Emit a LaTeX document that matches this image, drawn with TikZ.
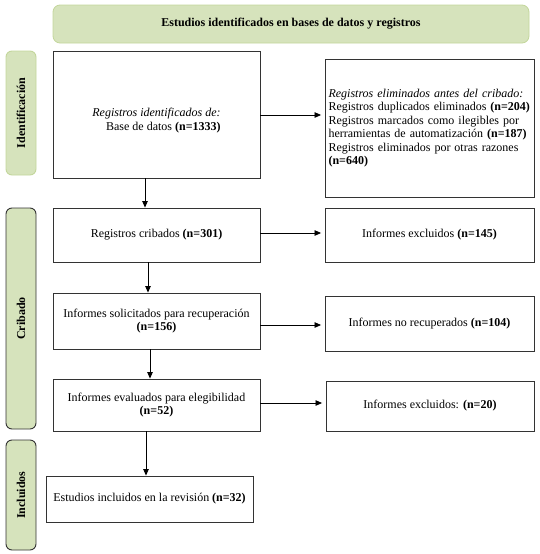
\documentclass[tikz,border=0pt]{standalone}
\usepackage{fontspec}
\setmainfont{Liberation Serif}
\usetikzlibrary{arrows.meta}
\definecolor{pgreen}{HTML}{D6E3BC}
\definecolor{pgreenedge}{HTML}{C3D69B}
\definecolor{boxline}{HTML}{333333}
\begin{document}
\begin{tikzpicture}[x=1pt,y=-1pt,
  font=\fontsize{12}{13.5}\selectfont,
  box/.style={draw=boxline, line width=0.9pt, inner sep=2pt, align=center},
  banner/.style={draw=pgreenedge, fill=pgreen, rounded corners=7pt, line width=0.8pt, font=\fontsize{12}{13.5}\selectfont\bfseries},
  sidelab/.style={fill=pgreen, rounded corners=6pt, rotate=90, line width=0.9pt, font=\fontsize{12}{13.5}\selectfont\bfseries, inner sep=0pt},
  arr/.style={-{Triangle[length=6.5pt,width=5.5pt]}, line width=0.8pt, black}
]
\useasboundingbox (0,0) rectangle (539,554);

% banner
\node[banner, minimum width=476pt, minimum height=38pt] (top) at (291,24)
  {Estudios identificados en bases de datos y registros};

% side labels
\node[sidelab, draw=pgreenedge, minimum width=124pt, minimum height=30pt] (lid) at (21,113) {Identificación};
\node[sidelab, draw=boxline, minimum width=221pt, minimum height=30pt] (lcr) at (21,318.5) {Cribado};
\node[sidelab, draw=boxline, minimum width=110pt, minimum height=30pt] (lin) at (21,495) {Incluidos};

% left column
\node[box, minimum width=207pt, minimum height=127pt] (idb) at (156.5,114.5) {};
\node[align=right, inner sep=0pt] (idt) at ([yshift=-6pt]idb.center)
  {\textit{Registros identificados de:}\\ Base de datos \textbf{(n=1333)}};
\node[box, minimum width=207pt, minimum height=54pt] (crib) at (156.5,235)
  {Registros cribados \textbf{(n=301)}};
\node[box, minimum width=207pt, minimum height=56pt] (sol) at (156.5,321)
  {Informes solicitados para recuperación\\ \textbf{(n=156)}};
\node[box, minimum width=207pt, minimum height=52pt] (eva) at (156.5,405)
  {Informes evaluados para elegibilidad\\ \textbf{(n=52)}};
\node[box, minimum width=207pt, minimum height=46pt] (inc) at (149.5,499)
  {Estudios incluidos en la revisión \textbf{(n=32)}};

% right column
\node[box, minimum width=209pt, minimum height=138pt, text width=202pt, align=left] (rem) at (429.5,128)
  {\textit{Registros eliminados antes del cribado:}\\
   Registros duplicados eliminados \textbf{(n=204)}\\
   \makebox[\linewidth][s]{Registros marcados como ilegibles por}\\
   herramientas de automatización \textbf{(n=187)}\\
   \makebox[\linewidth][s]{Registros eliminados por otras razones}\\
   \textbf{(n=640)}};
\node[box, minimum width=209pt, minimum height=54pt] (exc1) at (429.5,235)
  {Informes excluidos \textbf{(n=145)}};
\node[box, minimum width=209pt, minimum height=55pt] (nrec) at (429.5,323.5)
  {Informes no recuperados \textbf{(n=104)}};
\node[box, minimum width=208pt, minimum height=50pt] (exc2) at (430,406)
  {Informes excluidos: \textbf{(n=20)}};

% vertical arrows
\draw[arr] ([xshift=-11.5pt]idb.south) -- ([xshift=-11.5pt]idb.south |- crib.north);
\draw[arr] ([xshift=-8.5pt]crib.south) -- ([xshift=-8.5pt]crib.south |- sol.north);
\draw[arr] ([xshift=-6.5pt]sol.south) -- ([xshift=-6.5pt]sol.south |- eva.north);
\draw[arr] ([xshift=-10.5pt]eva.south) -- ([xshift=-10.5pt]eva.south |- inc.north);

% horizontal arrows
\draw[arr, shorten >=3.5pt] (idb.east |- 0,115) -- (rem.west |- 0,115);
\draw[arr, shorten >=3.5pt] (crib.east |- 0,233) -- (exc1.west |- 0,233);
\draw[arr, shorten >=3.5pt] (sol.east |- 0,325) -- (nrec.west |- 0,325);
\draw[arr, shorten >=3.5pt] (eva.east |- 0,403) -- (exc2.west |- 0,403);
\end{tikzpicture}
\end{document}
